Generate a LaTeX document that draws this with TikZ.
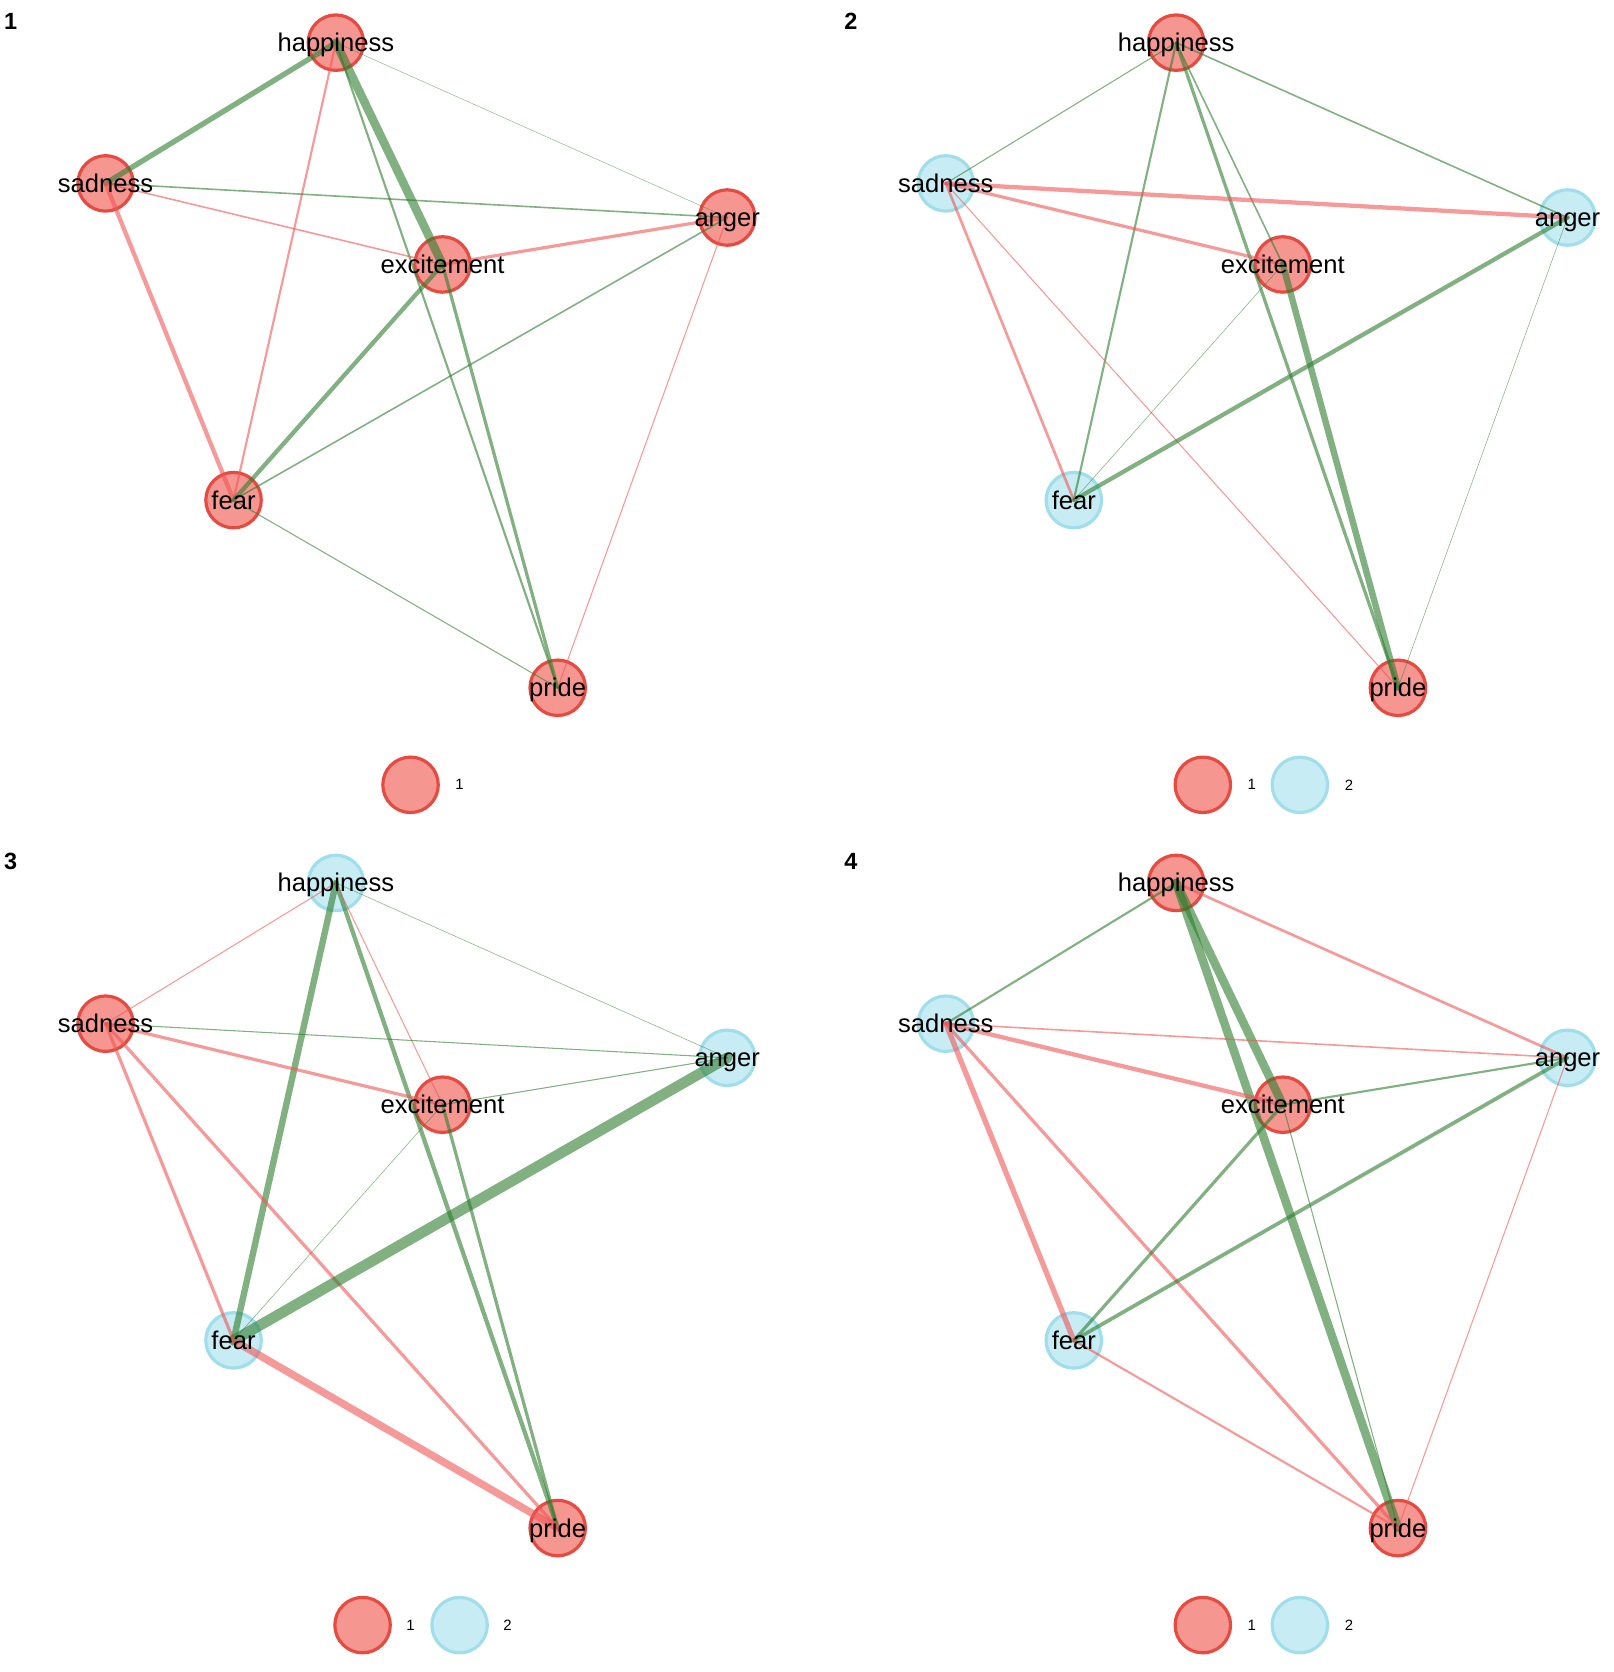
\documentclass[tikz,border=0pt]{standalone}
\usepackage{fontspec}
\setmainfont{Liberation Sans}

\definecolor{grp1}{RGB}{245,150,145}
\definecolor{grp1line}{RGB}{230,75,65}
\definecolor{grp2}{RGB}{200,236,244}
\definecolor{grp2line}{RGB}{160,222,236}
\definecolor{pos}{RGB}{45,125,45}
\definecolor{neg}{RGB}{240,85,85}

\tikzset{
  emo/.style={circle,minimum size=26pt,inner sep=0pt,line width=1.5pt,fill=#1,draw=#1line},
  lbl/.style={font=\fontsize{12}{12}\selectfont,inner sep=0pt},
  leg/.style={font=\fontsize{7}{7}\selectfont,inner sep=0pt},
  num/.style={font=\bfseries\fontsize{11}{11}\selectfont,inner sep=0pt},
  edge/.style={draw=#1,draw opacity=0.6,line cap=round}
}

% one panel: shift x, shift y, number, groups of the six emotions
\newcommand\drawpanel[9]{
  \begin{scope}[shift={(#1,#2)}]
    \node[num] (n#3) at (10,20) {#3};
    \node[emo=grp#4] (p#3h) at (315,40) {};
    \node[emo=grp#5] (p#3s) at (99,172) {};
    \node[emo=grp#6] (p#3a) at (682,204) {};
    \node[emo=grp#7] (p#3e) at (415,248) {};
    \node[emo=grp#8] (p#3f) at (219,469) {};
    \node[emo=grp#9] (p#3p) at (523,645) {};
  \end{scope}
}
\newcommand\drawlabels[1]{
  \foreach \k/\t in {h/happiness,s/sadness,a/anger,e/excitement,f/fear,p/pride}
    \node[lbl,anchor=base] (t#1\k) at ([yshift=-4.2pt]p#1\k.center) {\t};
}

\begin{document}
\begin{tikzpicture}[x=0.5pt,y=-0.5pt]
  \useasboundingbox (0,0) rectangle (1513,1568);

  \drawpanel{0}{0}{1}{1}{1}{1}{1}{1}{1}
  \drawpanel{788}{0}{2}{1}{2}{2}{1}{2}{1}
  \drawpanel{0}{788}{3}{2}{1}{2}{1}{2}{1}
  \drawpanel{788}{788}{4}{1}{2}{2}{1}{2}{1}

  % edges
  \foreach \u/\v/\c/\w in {h/s/pos/5,h/e/pos/8,h/f/neg/2,h/p/pos/2,h/a/pos/0.4,
      s/a/pos/1.5,s/e/neg/1.5,s/f/neg/4,e/a/neg/3,e/f/pos/4,e/p/pos/3,
      a/f/pos/1.5,a/p/neg/1,f/p/pos/1}
    \draw[edge=\c,line width=\w*0.5pt] (p1\u.center) -- (p1\v.center);
  \foreach \u/\v/\c/\w in {h/s/pos/1,h/a/pos/1.5,h/f/pos/2,h/p/pos/3,h/e/pos/1.5,
      s/a/neg/4,s/e/neg/3,s/f/neg/2.5,s/p/neg/1,e/p/pos/6,a/f/pos/4,
      a/p/pos/0.5,e/f/pos/0.5}
    \draw[edge=\c,line width=\w*0.5pt] (p2\u.center) -- (p2\v.center);
  \foreach \u/\v/\c/\w in {h/s/neg/1,h/f/pos/6,h/p/pos/4,h/e/neg/1,h/a/pos/0.5,
      s/a/pos/1,s/e/neg/3,s/f/neg/3,s/p/neg/3,e/a/pos/1,e/p/pos/3,
      e/f/pos/0.5,a/f/pos/10,f/p/neg/7}
    \draw[edge=\c,line width=\w*0.5pt] (p3\u.center) -- (p3\v.center);
  \foreach \u/\v/\c/\w in {h/s/pos/2,h/e/pos/8,h/p/pos/8,h/a/neg/2.5,
      s/a/neg/1.5,s/e/neg/4,s/f/neg/5,s/p/neg/3,e/a/pos/2,e/f/pos/3,
      e/p/pos/1,a/f/pos/3.5,a/p/neg/1,f/p/neg/2}
    \draw[edge=\c,line width=\w*0.5pt] (p4\u.center) -- (p4\v.center);

  \drawlabels{1}
  \drawlabels{2}
  \drawlabels{3}
  \drawlabels{4}

  % legends
  \node[emo=grp1] (l1a) at (385,736) {};
  \node[leg] (l1at) at (431,736) {1};
  \node[emo=grp1] (l2a) at (1128,736) {};
  \node[leg] (l2at) at (1174,736) {1};
  \node[emo=grp2] (l2b) at (1219,736) {};
  \node[leg] (l2bt) at (1265,736) {2};
  \node[emo=grp1] (l3a) at (340,1524) {};
  \node[leg] (l3at) at (385,1524) {1};
  \node[emo=grp2] (l3b) at (431,1524) {};
  \node[leg] (l3bt) at (476,1524) {2};
  \node[emo=grp1] (l4a) at (1128,1524) {};
  \node[leg] (l4at) at (1174,1524) {1};
  \node[emo=grp2] (l4b) at (1219,1524) {};
  \node[leg] (l4bt) at (1265,1524) {2};
\end{tikzpicture}
\end{document}
